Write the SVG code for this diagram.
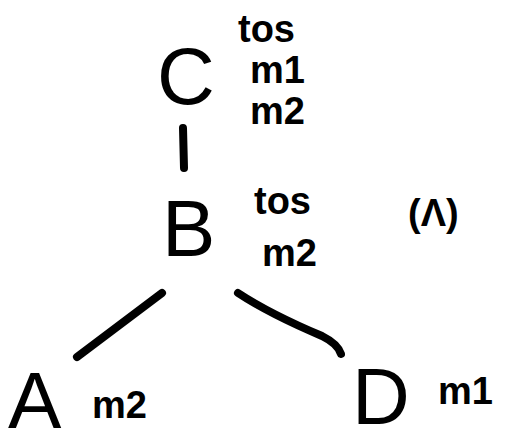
<svg xmlns="http://www.w3.org/2000/svg" width="506" height="445" viewBox="0 0 506 445">
  <style>
    .node { font-family: "Liberation Sans", Arial, sans-serif; fill: #000; }
    .big { font-size: 80px; }
    .small { font-size: 38px; font-weight: bold; }
    .edge { fill: none; stroke: #000; stroke-width: 8; stroke-linecap: round; stroke-linejoin: round; }
  </style>
  <rect width="506" height="445" fill="#fff"/>
  <g id="connectors">
    <path class="edge" d="M183,128 L184,168"/>
    <path class="edge" d="M77,357 L162,293"/>
    <path class="edge" d="M238,293 Q270,314 322,336 Q338,344 341,354"/>
  </g>
  <g id="node-C">
    <text class="node big" x="157" y="104">C</text>
    <text class="node small" x="238" y="42">tos</text>
    <text class="node small" x="250" y="83">m1</text>
    <text class="node small" x="250" y="124">m2</text>
  </g>
  <g id="node-B">
    <text class="node big" x="162" y="256">B</text>
    <text class="node small" x="254" y="214">tos</text>
    <text class="node small" x="262" y="266">m2</text>
  </g>
  <g id="label">
    <text class="node small" x="408" y="226">(Λ)</text>
  </g>
  <g id="node-A">
    <text class="node big" x="8" y="428">A</text>
    <text class="node small" x="92" y="418">m2</text>
  </g>
  <g id="node-D">
    <text class="node big" x="352" y="424">D</text>
    <text class="node small" x="438" y="404">m1</text>
  </g>
</svg>
